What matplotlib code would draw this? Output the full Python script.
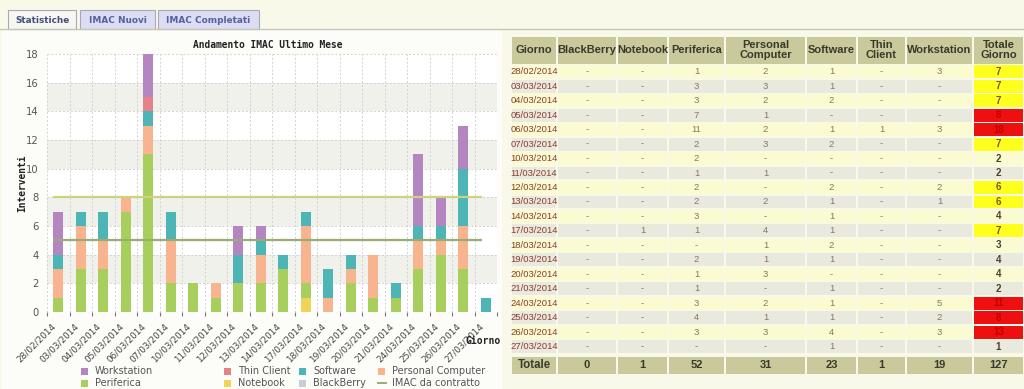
import matplotlib
matplotlib.use("Agg")
import matplotlib.pyplot as plt
from matplotlib.patches import Rectangle
from matplotlib.transforms import ScaledTranslation
import numpy as np

# ---- data -------------------------------------------------------------
giorni = ["28/02/2014", "03/03/2014", "04/03/2014", "05/03/2014", "06/03/2014",
          "07/03/2014", "10/03/2014", "11/03/2014", "12/03/2014", "13/03/2014",
          "14/03/2014", "17/03/2014", "18/03/2014", "19/03/2014", "20/03/2014",
          "21/03/2014", "24/03/2014", "25/03/2014", "26/03/2014", "27/03/2014"]

blackberry        = [0, 0, 0, 0, 0, 0, 0, 0, 0, 0, 0, 0, 0, 0, 0, 0, 0, 0, 0, 0]
notebook          = [0, 0, 0, 0, 0, 0, 0, 0, 0, 0, 0, 1, 0, 0, 0, 0, 0, 0, 0, 0]
periferica        = [1, 3, 3, 7, 11, 2, 2, 1, 2, 2, 3, 1, 0, 2, 1, 1, 3, 4, 3, 0]
personal_computer = [2, 3, 2, 1, 2, 3, 0, 1, 0, 2, 0, 4, 1, 1, 3, 0, 2, 1, 3, 0]
software          = [1, 1, 2, 0, 1, 2, 0, 0, 2, 1, 1, 1, 2, 1, 0, 1, 1, 1, 4, 1]
thin_client       = [0, 0, 0, 0, 1, 0, 0, 0, 0, 0, 0, 0, 0, 0, 0, 0, 0, 0, 0, 0]
workstation       = [3, 0, 0, 0, 3, 0, 0, 0, 2, 1, 0, 0, 0, 0, 0, 0, 5, 2, 3, 0]

# contractual thresholds ("IMAC da contratto")
soglia_alta = 8
soglia_bassa = 5

serie_nomi = ["BlackBerry", "Notebook", "Periferica", "Personal Computer",
              "Software", "Thin Client", "Workstation"]
serie_valori = [blackberry, notebook, periferica, personal_computer,
                software, thin_client, workstation]
serie_colori = ["#c4cfda", "#f0d456", "#a8cf5e", "#f7b48e",
                "#4db5b6", "#e6808a", "#b585c1"]

W, H = 1024, 389
fig = plt.figure(figsize=(W / 100, H / 100), dpi=100)
fig.patch.set_facecolor("#f9f9ea")

# full-figure pixel canvas for page furniture and the table
bg = fig.add_axes([0, 0, 1, 1], zorder=0)
bg.set_xlim(0, W)
bg.set_ylim(H, 0)
bg.axis("off")

# chart panel
bg.add_patch(Rectangle((2, 30), 500, 360, facecolor="#fcfcf8", edgecolor="none"))

# tabs
tabs = [("Statistiche", 8, 76, "#f6f6f2", "#44507a"),
        ("IMAC Nuovi", 80, 155, "#dcdcf2", "#5560a0"),
        ("IMAC Completati", 158, 259, "#dcdcf2", "#5560a0")]
bg.plot([0, W], [29, 29], color="#c6c6b8", lw=1)
for nome, l, r, fc, tc in tabs:
    bg.add_patch(Rectangle((l, 10), r - l, 19, facecolor=fc, edgecolor="#a8a8b8", lw=0.8))
    bg.text((l + r) / 2, 20, nome, ha="center", va="center", fontsize=6.4,
            fontweight="bold", color=tc, family="DejaVu Sans")

# ---- chart ------------------------------------------------------------
def px_axes(l, t, r, b):
    return [l / W, 1 - b / H, (r - l) / W, (b - t) / H]

ax = fig.add_axes(px_axes(47, 54, 497, 312), zorder=1)
ax.set_facecolor("white")
x = np.arange(len(giorni))
ax.set_xlim(-0.5, len(giorni) - 0.5)
ax.set_ylim(0, 18)

for y0 in range(2, 18, 4):
    ax.axhspan(y0, y0 + 2, color="#f1f1ec", zorder=0, lw=0)

base = np.zeros(len(giorni))
for nome, vals, col in zip(serie_nomi, serie_valori, serie_colori):
    v = np.array(vals, dtype=float)
    ax.bar(x, v, width=0.45, bottom=base, color=col, zorder=3, lw=0)
    base += v

ax.hlines(soglia_alta, -0.25, len(giorni) - 1.15, color="#cfd27c", lw=1.6, zorder=4)
ax.hlines(soglia_bassa, -0.25, len(giorni) - 1.15, color="#9aab74", lw=1.6, zorder=4)

ax.set_yticks(np.arange(0, 19, 2))
ax.tick_params(axis="y", length=0, pad=6, labelsize=7.2, labelcolor="#555555")
ax.set_xticks(x)
ax.set_xticklabels(giorni, rotation=45, ha="right", rotation_mode="anchor",
                   fontsize=6.4, color="#444444")
ax.tick_params(axis="x", which="major", length=0, pad=7)
ax.set_xticks(np.arange(-0.5, len(giorni), 1), minor=True)
ax.tick_params(axis="x", which="minor", length=3, color="#777777", width=0.8)
shift = ScaledTranslation(-5 / 72, 0, fig.dpi_scale_trans)
for lab in ax.get_xticklabels():
    lab.set_transform(lab.get_transform() + shift)

ax.grid(True, axis="y", which="major", color="#d2d2d2", ls=(0, (2, 2)), lw=0.7, zorder=1)
ax.grid(True, axis="x", which="minor", color="#d2d2d2", ls=(0, (2, 2)), lw=0.7, zorder=1)
for s in ax.spines.values():
    s.set_visible(False)

mono = "DejaVu Sans Mono"
fig.text(268 / W, 1 - 45 / H, "Andamento IMAC Ultimo Mese", ha="center", va="center",
         fontsize=6.9, fontweight="bold", family=mono, color="#222222")
fig.text(22 / W, 1 - 183 / H, "Interventi", ha="center", va="center", rotation=90,
         fontsize=6.9, fontweight="bold", family=mono, color="#222222")
fig.text(501 / W, 1 - 341 / H, "Giorno", ha="right", va="center",
         fontsize=7, fontweight="bold", family=mono, color="#222222")

# legend (two rows, four columns)
legenda = [("Workstation", "#b585c1"), ("Thin Client", "#e6808a"),
           ("Software", "#4db5b6"), ("Personal Computer", "#f7b48e"),
           ("Periferica", "#a8cf5e"), ("Notebook", "#f0d456"),
           ("BlackBerry", "#c4cfda"), ("IMAC da contratto", None)]
col_x = [81, 224, 299, 378]
row_y = [371, 383]
for k, (nome, col) in enumerate(legenda):
    cx, cy = col_x[k % 4], row_y[k // 4]
    if col is None:
        bg.plot([cx, cx + 8], [cy, cy], color="#9aab74", lw=1.4)
    else:
        bg.add_patch(Rectangle((cx, cy - 3.5), 7, 7, facecolor=col, edgecolor="none"))
    bg.text(cx + 14, cy, nome, ha="left", va="center", fontsize=7, color="#555555")

# ---- table ------------------------------------------------------------
col_edges = [511, 557, 617, 668, 725, 806, 857, 906, 973, 1024]
intestazioni = ["Giorno", "BlackBerry", "Notebook", "Periferica", "Personal\nComputer",
                "Software", "Thin\nClient", "Workstation", "Totale\nGiorno"]
head_top, head_bot = 36, 64.5
row_h = 14.47
tot_top, tot_bot = 356, 375
khaki = "#c9c99c"
txt_font = "Liberation Sans"

def cella(l, t, r, b, fc):
    bg.add_patch(Rectangle((l + 0.8, t + 0.8), r - l - 1.6, b - t - 1.6,
                           facecolor=fc, edgecolor="none"))

for j, testo in enumerate(intestazioni):
    l, r = col_edges[j], col_edges[j + 1]
    cella(l, head_top, r, head_bot, khaki)
    bg.text((l + r) / 2, (head_top + head_bot) / 2, testo, ha="center", va="center",
            fontsize=8, fontweight="bold", color="#3a3a2c", family=txt_font,
            linespacing=1.0)

totali_giorno = [sum(s[i] for s in serie_valori) for i in range(len(giorni))]
for i, g in enumerate(giorni):
    t = head_bot + i * row_h
    b = t + row_h
    cy = (t + b) / 2
    fondo = "#fbfbd2" if i % 2 == 0 else "#e9e9de"
    cella(col_edges[0], t, col_edges[1], b, fondo)
    bg.text((col_edges[0] + col_edges[1]) / 2, cy, g, ha="center", va="center",
            fontsize=6.8, color="#8e3b2f", family=txt_font)
    for j, vals in enumerate(serie_valori):
        l, r = col_edges[j + 1], col_edges[j + 2]
        cella(l, t, r, b, fondo)
        v = vals[i]
        bg.text((l + r) / 2, cy, str(v) if v else "-", ha="center", va="center",
                fontsize=6.8, color="#8a7560", family=txt_font)
    tot = totali_giorno[i]
    if tot >= soglia_alta:
        fc, tc = "#ee1010", "#c40000"
    elif tot >= soglia_bassa:
        fc, tc = "#ffff1e", "#7a5218"
    else:
        fc, tc = fondo, "#4a4030"
    l, r = col_edges[-2], col_edges[-1]
    cella(l, t, r, b, fc)
    bg.text((l + r) / 2, cy, str(tot), ha="center", va="center", fontsize=7,
            fontweight="bold", color=tc, family=txt_font)

totali_serie = [sum(v) for v in serie_valori] + [sum(totali_giorno)]
cy = (tot_top + tot_bot) / 2
cella(col_edges[0], tot_top, col_edges[1], tot_bot, khaki)
bg.text((col_edges[0] + col_edges[1]) / 2, cy, "Totale", ha="center", va="center",
        fontsize=8.3, fontweight="bold", color="#3a3a2c", family=txt_font)
for j, v in enumerate(totali_serie):
    l, r = col_edges[j + 1], col_edges[j + 2]
    cella(l, tot_top, r, tot_bot, khaki)
    bg.text((l + r) / 2, cy, str(v), ha="center", va="center", fontsize=8,
            fontweight="bold", color="#3a3a2c", family=txt_font)

fig.savefig("out.png", dpi=100, facecolor=fig.get_facecolor())
